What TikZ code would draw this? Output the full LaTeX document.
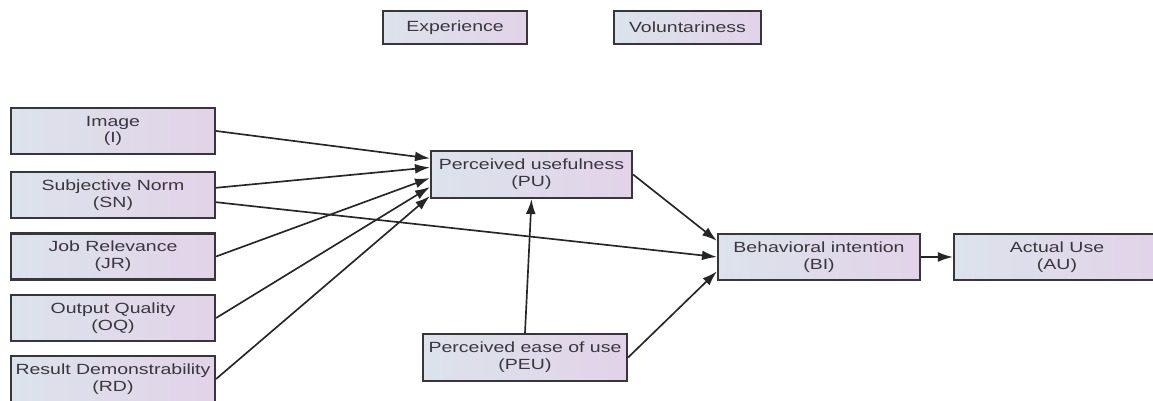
\documentclass[tikz,border=0pt]{standalone}
\usepackage{fontspec}
\setmainfont{Liberation Sans}[FakeStretch=1.32]
\usetikzlibrary{arrows.meta}
\definecolor{boxleft}{RGB}{220,227,236}
\definecolor{boxright}{RGB}{226,211,232}
\definecolor{boxline}{RGB}{55,55,55}
\definecolor{boxtext}{RGB}{58,54,64}
\tikzset{
  box/.style={draw=boxline, line width=1.25pt, left color=boxleft, right color=boxright,
    text=boxtext, align=center, inner sep=0pt, minimum height=0.92cm,
    font=\fontsize{8.4}{9.6}\selectfont},
  link/.style={draw=black!85, line width=0.95pt, -{Latex[length=8.5pt,width=5.6pt]}}
}
\begin{document}
\begin{tikzpicture}[x=0.02cm,y=-0.02cm]
    \useasboundingbox (0,0) rectangle (1153,401);
    % moderators
    \node[box, minimum width=2.88cm, minimum height=0.66cm] (exp) at (455,27.5) {Experience};
    \node[box, minimum width=2.94cm, minimum height=0.66cm] (vol) at (687.5,27.5) {Voluntariness};
    % external variables
    \node[box, minimum width=4.08cm] (img) at (113,131) {Image\\(I)};
    \node[box, minimum width=4.08cm] (sn) at (113,195) {Subjective Norm\\(SN)};
    \node[box, minimum width=4.08cm] (jr) at (113,256.5) {Job Relevance\\(JR)};
    \node[box, minimum width=4.08cm] (oq) at (113,318) {Output Quality\\(OQ)};
    \node[box, minimum width=4.08cm] (rd) at (113,379) {Result Demonstrability\\(RD)};
    % core constructs
    \node[box, minimum width=4.02cm, minimum height=0.94cm] (pu) at (531.5,174.5) {Perceived usefulness\\(PU)};
    \node[box, minimum width=4.08cm, minimum height=0.94cm] (peu) at (525,357.5) {Perceived ease of use\\(PEU)};
    \node[box, minimum width=4.04cm] (bi) at (819,257) {Behavioral intention\\(BI)};
    \node[box, minimum width=4.12cm] (au) at (1057,257) {Actual Use\\(AU)};
    % paths
    \draw[link] (img.east) -- (pu.171);
    \draw[link] (sn.4.5) -- (pu.176);
    \draw[link] (jr.east) -- (pu.182);
    \draw[link] (oq.east) -- (pu.187);
    \draw[link] (rd.east) -- (pu.192);
    \draw[link] (sn.-4.5) -- (bi.west);
    \draw[link] (pu.east) -- (bi.171.5);
    \draw[link] (peu.east) -- (bi.188.5);
    \draw[link] (peu.north) -- (pu.south);
    \draw[link] (bi.east) -- (au.west);
\end{tikzpicture}
\end{document}
